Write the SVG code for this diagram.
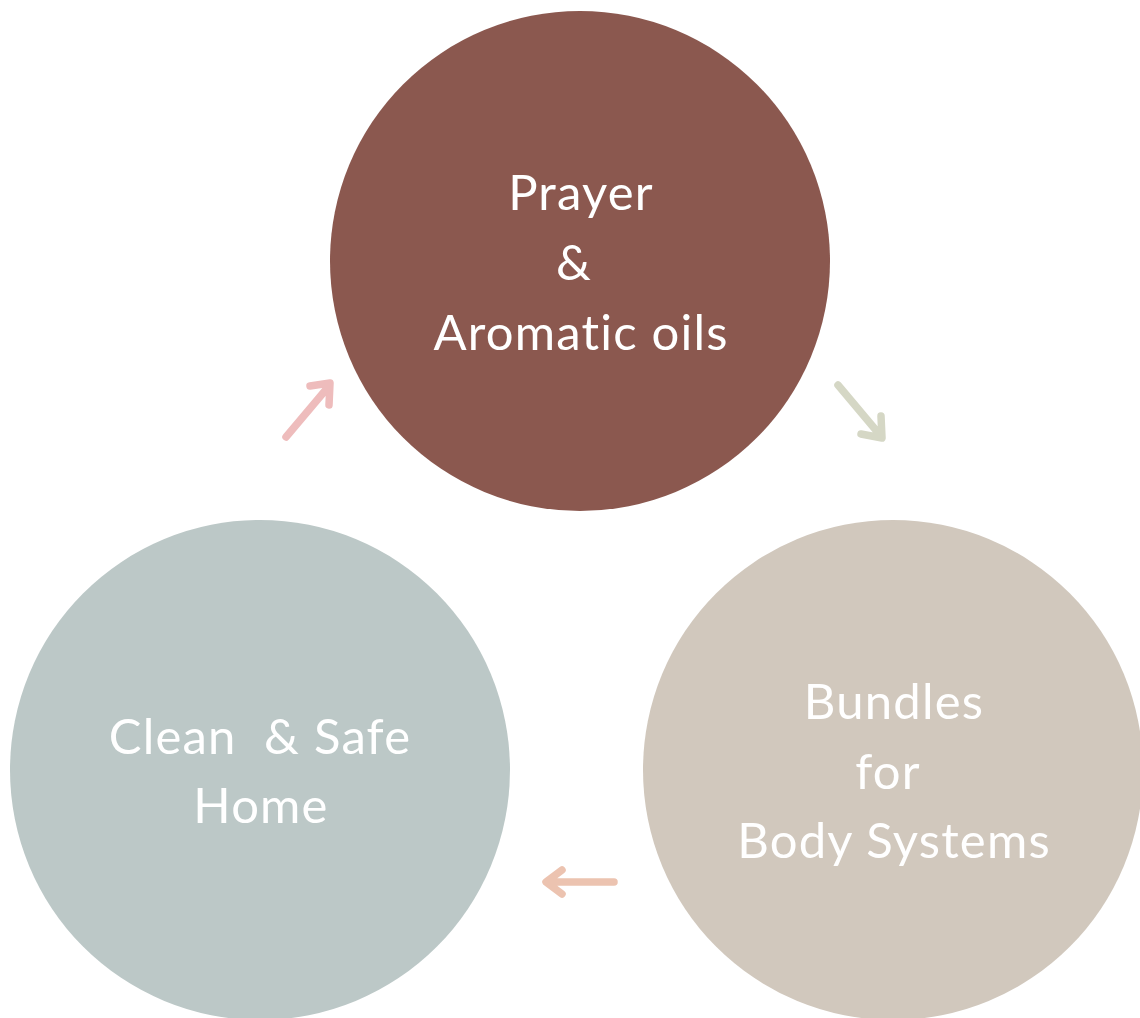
<svg xmlns="http://www.w3.org/2000/svg" width="1140" height="1018" viewBox="0 0 1140 1018">
<style>
.lbl{font-family:Lato,"Liberation Sans",sans-serif;font-size:49px;fill:#ffffff;text-anchor:middle;letter-spacing:1.2px}
.arr{fill:none;stroke-width:7.5;stroke-linecap:round;stroke-linejoin:round}
</style>
<rect width="1140" height="1018" fill="#ffffff"/>
<g id="node-prayer">
<circle cx="580" cy="261" r="250" fill="#8b584f"/>
<text class="lbl" x="581" y="210">Prayer</text>
<text class="lbl" x="574" y="280">&amp;</text>
<text class="lbl" x="581" y="350">Aromatic oils</text>
</g>
<g id="node-bundles">
<circle cx="893" cy="770" r="250" fill="#d1c8bd"/>
<text class="lbl" x="894" y="719">Bundles</text>
<text class="lbl" x="888" y="789">for</text>
<text class="lbl" x="894" y="858">Body Systems</text>
</g>
<g id="node-home">
<circle cx="260" cy="770" r="250" fill="#bcc8c7"/>
<text class="lbl" x="260" y="754" xml:space="preserve">Clean  &amp; Safe</text>
<text class="lbl" x="261" y="823">Home</text>
</g>
<g id="connectors">
<path class="arr" stroke="#eebcbc" d="M286 437 L329 386 M310 386 L330 383 L329 405"/>
<path class="arr" stroke="#d5d7c5" d="M838 385 L880 435 M861 434 L882 438 L881 416"/>
<path class="arr" stroke="#ecc3b0" d="M614 882 L548 882 M562 870 L546 882 L562 894"/>
</g>
</svg>
